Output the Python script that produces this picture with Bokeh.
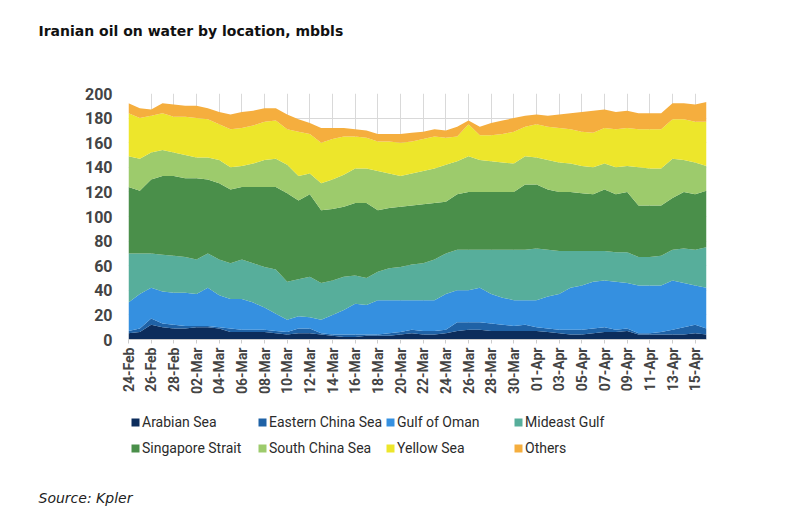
from bokeh.plotting import figure
from bokeh.layouts import column
from bokeh.models import Legend, LegendItem, Title, FixedTicker, ColumnDataSource
from bokeh.embed import file_html
from bokeh.resources import INLINE

dates = ["24-Feb", "25-Feb", "26-Feb", "27-Feb", "28-Feb", "01-Mar", "02-Mar", "03-Mar", "04-Mar", "05-Mar",
         "06-Mar", "07-Mar", "08-Mar", "09-Mar", "10-Mar", "11-Mar", "12-Mar", "13-Mar", "14-Mar", "15-Mar",
         "16-Mar", "17-Mar", "18-Mar", "19-Mar", "20-Mar", "21-Mar", "22-Mar", "23-Mar", "24-Mar", "25-Mar",
         "26-Mar", "27-Mar", "28-Mar", "29-Mar", "30-Mar", "31-Mar", "01-Apr", "02-Apr", "03-Apr", "04-Apr",
         "05-Apr", "06-Apr", "07-Apr", "08-Apr", "09-Apr", "10-Apr", "11-Apr", "12-Apr", "13-Apr", "14-Apr",
         "15-Apr", "16-Apr"]

arabian_sea = [5, 6, 12, 10, 9, 9, 10, 10, 9, 6, 6, 6, 6, 5, 4, 5, 5, 4, 3, 2, 2, 3, 3, 3, 4, 5,
               4, 4, 5, 7, 8, 8, 7, 7, 7, 7, 7, 6, 5, 4, 4, 5, 6, 6, 7, 4, 4, 4, 4, 4, 5, 4]
eastern_china_sea = [2, 3, 5, 3, 3, 2, 1, 1, 1, 3, 2, 2, 2, 2, 2, 4, 4, 1, 1, 2, 2, 1, 1, 2, 2, 3,
                     3, 3, 3, 7, 6, 6, 6, 5, 4, 5, 3, 3, 3, 4, 4, 4, 4, 2, 2, 1, 1, 2, 4, 6, 7, 5]
gulf_of_oman = [23, 28, 25, 26, 26, 27, 26, 31, 26, 24, 25, 22, 18, 14, 10, 10, 9, 11, 16, 20, 25, 24, 28, 27, 26, 24,
                25, 25, 29, 26, 26, 28, 24, 22, 21, 20, 22, 26, 29, 34, 36, 38, 38, 39, 37, 39, 39, 38, 40, 36, 32, 33]
mideast_gulf = [40, 33, 28, 30, 30, 29, 28, 28, 29, 29, 32, 32, 33, 36, 31, 30, 33, 30, 28, 27, 23, 22, 23, 26, 27, 29,
                30, 33, 33, 33, 33, 31, 36, 39, 41, 41, 42, 38, 35, 30, 28, 25, 24, 24, 25, 23, 23, 24, 25, 28, 29, 33]
singapore_strait = [54, 51, 60, 64, 65, 64, 66, 60, 62, 60, 59, 62, 65, 67, 72, 64, 67, 59, 58, 57, 59, 61, 50, 49, 49, 48,
                    48, 46, 42, 45, 47, 47, 47, 47, 47, 53, 52, 49, 48, 48, 47, 46, 50, 47, 49, 42, 42, 41, 42, 46, 45, 46]
south_china_sea = [25, 26, 22, 21, 19, 19, 17, 18, 19, 18, 17, 19, 22, 23, 23, 20, 17, 22, 24, 26, 28, 28, 32, 28, 25, 26,
                   27, 28, 30, 27, 29, 26, 25, 24, 23, 23, 22, 24, 24, 23, 22, 22, 21, 22, 21, 31, 30, 30, 32, 26, 26, 20]
yellow_sea = [35, 33, 30, 30, 29, 31, 32, 31, 29, 31, 31, 31, 31, 31, 29, 36, 32, 33, 33, 31, 26, 25, 24, 26, 27, 26,
              26, 26, 22, 20, 26, 20, 21, 23, 26, 24, 27, 27, 28, 28, 28, 28, 29, 31, 31, 31, 32, 32, 32, 33, 33, 36]
others = [8, 8, 5, 8, 10, 9, 10, 9, 10, 12, 13, 12, 11, 10, 12, 10, 9, 12, 9, 7, 6, 6, 6, 6, 7, 7,
          6, 6, 6, 8, 3, 7, 10, 11, 11, 9, 8, 9, 11, 13, 16, 18, 15, 14, 14, 13, 13, 13, 13, 13, 14, 16]

series_names = ["Arabian Sea", "Eastern China Sea", "Gulf of Oman", "Mideast Gulf",
                "Singapore Strait", "South China Sea", "Yellow Sea", "Others"]
series_values = [arabian_sea, eastern_china_sea, gulf_of_oman, mideast_gulf,
                 singapore_strait, south_china_sea, yellow_sea, others]
colors = ["#0c2d5c", "#1f62a6", "#3590e0", "#57ae9b", "#4a8f4a", "#9dcb6c", "#ede62b", "#f5ae3e"]

y_ticks = list(range(0, 201, 20))

xs = list(range(len(dates)))
data = {"x": xs}
keys = []
for i, vals in enumerate(series_values):
    k = "s%d" % i
    keys.append(k)
    data[k] = vals
source = ColumnDataSource(data)

# ---- title strip (frame aligned with main chart; title drawn in its top panel) ----
top = figure(width=800, height=80, output_backend="svg", toolbar_location=None,
             x_axis_location=None, y_axis_location=None, min_border=0,
             x_range=(0, 1), y_range=(0, 1))
top.outline_line_color = None
top.grid.visible = False
top.title.text = "Iranian oil on water by location, mbbls"
top.title.align = "left"
top.title.vertical_align = "top"
top.title.offset = -90
top.title.standoff = 44
top.title.text_font = "DejaVu Sans"
top.title.text_font_style = "bold"
top.title.text_font_size = "14px"
top.title.text_color = "#111111"

# ---- main chart ----
p = figure(width=800, height=330, output_backend="svg", toolbar_location=None,
           x_range=(0, len(dates) - 1), y_range=(0, 200),
           min_border_left=128, min_border_right=94, min_border_top=13, min_border_bottom=71)
p.outline_line_color = None
p.background_fill_color = "white"

renderers = p.varea_stack(stackers=keys, x="x", color=colors, source=source)

p.xaxis.ticker = FixedTicker(ticks=xs[::2])
p.xaxis.major_label_overrides = {i: dates[i] for i in xs}
p.xaxis.major_label_orientation = 1.5708
p.xaxis.major_label_text_font = "Roboto"
p.xaxis.major_label_text_font_style = "bold"
p.xaxis.major_label_text_font_size = "14px"
p.xaxis.major_label_text_color = "#444444"
p.xaxis.axis_line_color = "#cccccc"
p.xaxis.major_tick_line_color = "#cccccc"
p.xaxis.major_tick_in = 0
p.xaxis.major_tick_out = 4
p.xaxis.minor_tick_line_color = None
p.xaxis.major_label_standoff = 4

p.yaxis.ticker = FixedTicker(ticks=y_ticks)
p.yaxis.major_label_text_font = "Roboto"
p.yaxis.major_label_text_font_style = "bold"
p.yaxis.major_label_text_font_size = "16px"
p.yaxis.major_label_text_color = "#444444"
p.yaxis.axis_line_color = None
p.yaxis.major_tick_line_color = None
p.yaxis.minor_tick_line_color = None
p.yaxis.major_label_standoff = 10

p.xgrid.ticker = FixedTicker(ticks=xs[::2])
p.xgrid.grid_line_color = "#d9d9d9"
p.ygrid.grid_line_color = "#d9d9d9"
p.grid.level = "underlay"

# ---- legend + source strip ----
bot = figure(width=800, height=112, output_backend="svg", toolbar_location=None,
             x_axis_location=None, y_axis_location=None, min_border=0,
             x_range=(0, 1), y_range=(1000, 1001))
bot.outline_line_color = None
bot.grid.visible = False

# same stacked series (outside this strip's visible range) only to provide legend swatches
swatches = bot.varea_stack(stackers=keys, x="x", color=colors, source=source)
col_x = [2, 129, 257, 385]
for ci in range(4):
    its = [LegendItem(label=series_names[ci], renderers=[swatches[ci]]),
           LegendItem(label=series_names[ci + 4], renderers=[swatches[ci + 4]])]
    lg = Legend(items=its, location=(col_x[ci], 12), orientation="vertical",
                glyph_width=10, glyph_height=10, label_standoff=2,
                label_text_font="Roboto", label_text_font_size="14px",
                label_text_color="#2b2b2b", label_height=20, spacing=6,
                padding=0, margin=0, border_line_color=None, background_fill_alpha=0)
    bot.add_layout(lg, "center")

src = Title(text="Source: Kpler", align="left", vertical_align="bottom", offset=-90, standoff=34,
            text_font="DejaVu Sans", text_font_style="italic",
            text_font_size="14px", text_color="#222222")
bot.add_layout(src, "below")

layout = column(top, p, bot, spacing=0)
open("out.html", "w").write(file_html(layout, INLINE))
